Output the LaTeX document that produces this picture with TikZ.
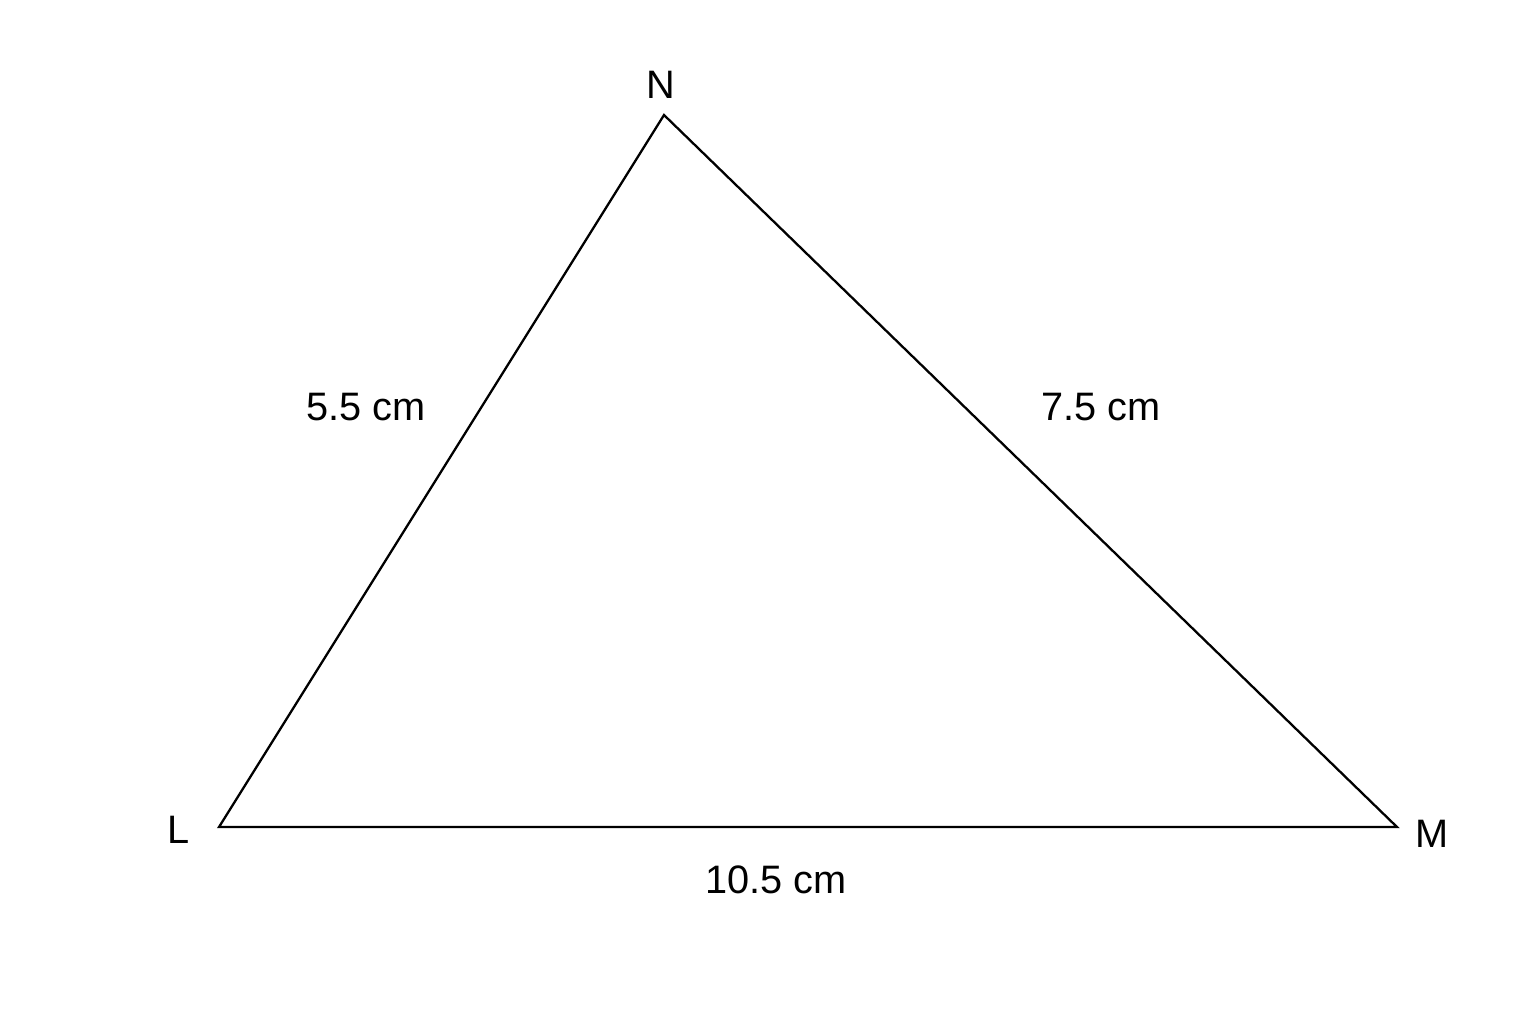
\documentclass[tikz,border=0pt]{standalone}
\usepackage{fontspec}
\setmainfont{Liberation Sans}
\usetikzlibrary{positioning}

\begin{document}
\begin{tikzpicture}[x=0.02cm, y=-0.02cm, line width=1.3pt,
    every node/.style={font=\fontsize{22.6}{27}\selectfont, inner sep=0pt}]
    \useasboundingbox (0,0) rectangle (1536,1024);
    % vertices
    \coordinate (L) at (219,827);
    \coordinate (M) at (1397,827);
    \coordinate (N) at (664,115);
    \draw[line join=miter] (L) -- (M) -- (N) -- cycle;

    % vertex labels
    \node (labN) at (661,85) {N};
    \node (labL) at (179,830) {L};
    \node (labM) at (1432,834) {M};

    % side lengths
    \node (sideLN) at (366,407) {5.5 cm};
    \node (sideNM) at (1101,407) {7.5 cm};
    \node (sideLM) at (776,880) {10.5 cm};
\end{tikzpicture}
\end{document}
